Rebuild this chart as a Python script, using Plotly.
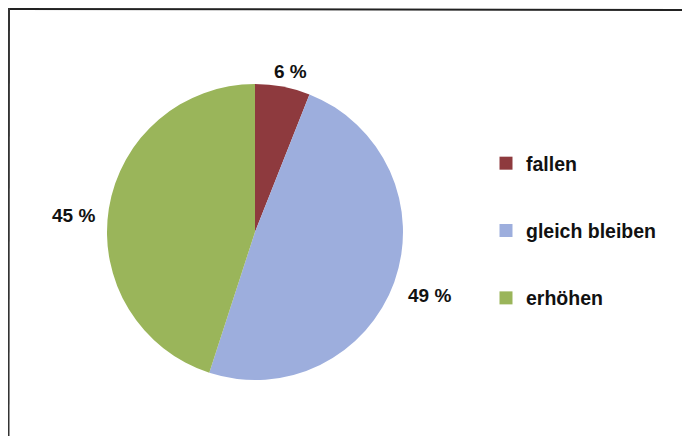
import math
import plotly.graph_objects as go

labels = ['fallen', 'gleich bleiben', 'erhöhen']
values = [6, 49, 45]
colors = ['#8E3A3E', '#9DAEDD', '#9AB55A']

# the page body has an 8px margin, so the figure is 674x428 placed at (8, 8)
W, H = 674, 428
cx, cy, r = 247, 224, 148  # pie centre and radius in figure pixels

fig = go.Figure()

fig.add_trace(go.Pie(
    labels=labels,
    values=values,
    sort=False,
    direction='clockwise',
    rotation=0,
    marker=dict(colors=colors, line=dict(width=0)),
    textinfo='none',
    hoverinfo='label+percent',
    showlegend=False,
    domain=dict(x=[(cx - r) / W, (cx + r) / W], y=[1 - (cy + r) / H, 1 - (cy - r) / H]),
))

# percentage labels just outside each slice, at the slice's mid angle
total = sum(values)
cum = 0
annotations = []
for v in values:
    mid = (cum + v / 2) / total * 2 * math.pi
    cum += v
    s, c = math.sin(mid), math.cos(mid)
    R = 160
    px, py = cx + R * s, cy - R * c
    xanchor = 'left' if s > 0.5 else ('right' if s < -0.5 else 'center')
    yanchor = 'bottom' if c > 0.5 else ('top' if c < -0.5 else 'middle')
    annotations.append(dict(
        x=px / W, y=1 - py / H, xref='paper', yref='paper',
        text=f'{v} %', showarrow=False,
        xanchor=xanchor, yanchor=yanchor,
        xshift=6 if xanchor == 'center' else 0, yshift=-9,
        font=dict(size=19, color='#111111', weight='bold'),
    ))

# legend entries as square markers, one group each so they can be spaced apart
for name, color in zip(labels, colors):
    fig.add_trace(go.Scatter(
        x=[None], y=[None],
        mode='markers',
        name=name,
        legendgroup=name,
        marker=dict(symbol='square', size=13, color=color),
    ))

fig.update_layout(
    width=W,
    height=H,
    margin=dict(l=0, r=0, t=0, b=0),
    paper_bgcolor='white',
    plot_bgcolor='white',
    xaxis=dict(visible=False),
    yaxis=dict(visible=False),
    font=dict(family='Liberation Sans, Arial, sans-serif', color='#111111'),
    legend=dict(
        x=478 / W, y=1 - 136 / H,
        xanchor='left', yanchor='top',
        font=dict(size=19.5, color='#111111', weight='bold'),
        tracegroupgap=39,
        itemwidth=30,
        bgcolor='rgba(0,0,0,0)',
    ),
    annotations=annotations,
    shapes=[
        dict(type='line', xref='paper', yref='paper', x0=0, y0=1 - 1 / H,
             x1=1, y1=1 - 2 / H, line=dict(color='#222222', width=2)),
        dict(type='line', xref='paper', yref='paper', x0=1 / W, y0=1,
             x1=0.5 / W, y1=0, line=dict(color='#333333', width=2)),
    ],
)

fig.write_html("out.html")
